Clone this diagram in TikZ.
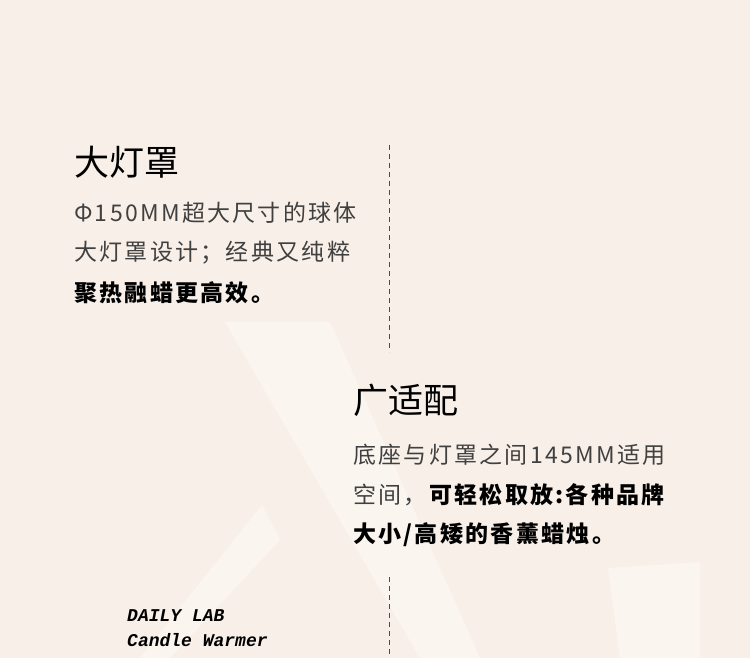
\documentclass[tikz,border=0pt]{standalone}
\usepackage{fontspec}
\usepackage{xcolor}
\newfontfamily\cjk{Noto Sans CJK SC}
\newfontfamily\cjkwide[LetterSpace=10]{Noto Sans CJK SC}
\newfontfamily\monoit{Liberation Mono}
\definecolor{paperBg}{RGB}{248, 239, 232}
\definecolor{paperHi}{RGB}{251, 245, 240}
\begin{document}
\begin{tikzpicture}[
        x=1pt, y=-1pt,
        title/.style={anchor=west, inner sep=0pt, font=\cjk\fontsize{35}{35}\selectfont},
        line/.style={anchor=west, inner sep=0pt, font=\cjkwide\fontsize{23}{23}\selectfont, text=black!75},
        boldline/.style={line, font=\cjkwide\bfseries\fontsize{23}{23}\selectfont, text=black},
        brand/.style={anchor=west, inner sep=0pt, font=\monoit\bfseries\itshape\fontsize{18}{18}\selectfont},
        divider/.style={thick, black!70, dash pattern=on 5pt off 4pt}
    ]
    \useasboundingbox (0,0) rectangle (750,658);
    \fill[paperBg] (0,0) rectangle (750,658);

    % Fond
    \fill[paperHi] (225,322) -- (330,322) -- (480,658) -- (420,658) -- cycle;
    \fill[paperHi] (262,505) -- (280,540) -- (170,658) -- (140,658) -- cycle;
    \fill[paperHi] (608,568) -- (700,562) -- (700,658) -- (620,658) -- cycle;

    % Bloc 1
    \node[title] (t1) at (74,162) {大灯罩};
    \node[line] (a1) at (74,213) {Φ150MM超大尺寸的球体};
    \node[line] (a2) at (74,253) {大灯罩设计；经典又纯粹};
    \node[boldline] (a3) at (74,293) {聚热融蜡更高效。};

    % Bloc 2
    \node[title] (t2) at (353,400) {广适配};
    \node[line] (b1) at (353,455) {底座与灯罩之间145MM适用};
    \node[line] (b2) at (353,495) {空间，\textbf{\color{black}可轻松取放:各种品牌}};
    \node[boldline] (b3) at (353,535) {大小/高矮的香薰蜡烛。};

    % Marque
    \node[brand] (l1) at (127,616) {DAILY LAB};
    \node[brand] (l2) at (127,640) {Candle Warmer};

    % Separateurs
    \coordinate (s1) at (389,145);
    \coordinate (s2) at (389,352);
    \coordinate (s3) at (389,577);
    \coordinate (s4) at (389,658);
    \draw[divider] (s1) -- (s2);
    \draw[divider] (s3) -- (s4);
\end{tikzpicture}
\end{document}
